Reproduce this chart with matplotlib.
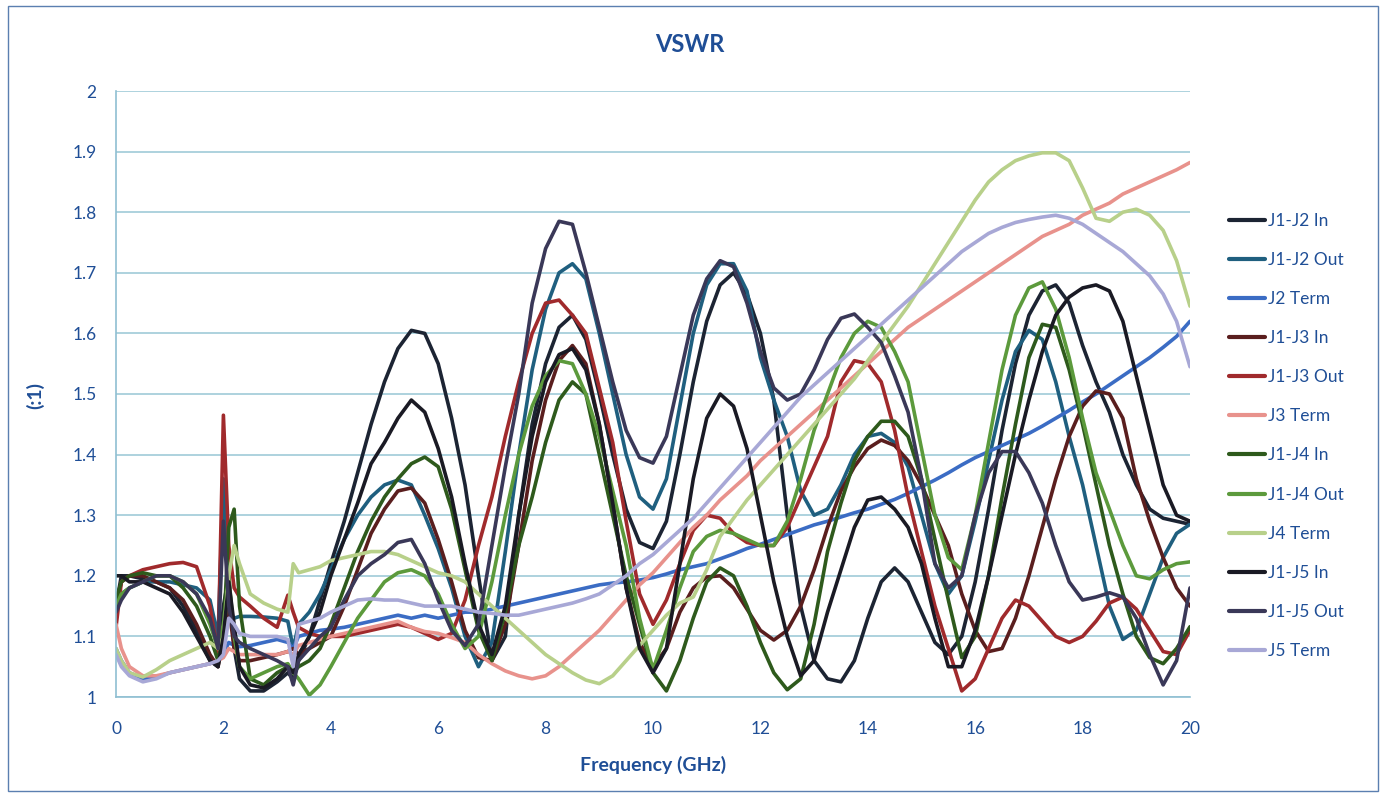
import matplotlib
matplotlib.use("Agg")
import matplotlib.pyplot as plt
from matplotlib.patches import Rectangle

plt.rcParams['font.family'] = ['Lato', 'DejaVu Sans']

freq = [0.0, 0.1, 0.25, 0.5, 0.75, 1.0, 1.25, 1.5, 1.75, 1.9, 2.0, 2.1, 2.2, 2.3, 2.5, 2.75, 3.0, 3.2, 3.3, 3.4, 3.6, 3.8,
        4.0, 4.25, 4.5, 4.75, 5.0, 5.25, 5.5, 5.75, 6.0, 6.25, 6.5, 6.75, 7.0, 7.25, 7.5, 7.75,
        8.0, 8.25, 8.5, 8.75, 9.0, 9.25, 9.5, 9.75, 10.0, 10.25, 10.5, 10.75, 11.0, 11.25, 11.5, 11.75,
        12.0, 12.25, 12.5, 12.75, 13.0, 13.25, 13.5, 13.75, 14.0, 14.25, 14.5, 14.75, 15.0, 15.25, 15.5, 15.75,
        16.0, 16.25, 16.5, 16.75, 17.0, 17.25, 17.5, 17.75, 18.0, 18.25, 18.5, 18.75, 19.0, 19.25, 19.5, 19.75,
        20.0]

j1j2_in = [1.15, 1.20, 1.20, 1.195, 1.19, 1.18, 1.15, 1.11, 1.06, 1.05, 1.15, 1.20, 1.08, 1.03, 1.01, 1.01, 1.025, 1.04, 1.03, 1.06, 1.10, 1.16,
           1.22, 1.29, 1.37, 1.45, 1.52, 1.575, 1.605, 1.60, 1.55, 1.46, 1.35, 1.20, 1.06, 1.10, 1.30, 1.45,
           1.55, 1.61, 1.63, 1.59, 1.50, 1.40, 1.31, 1.255, 1.245, 1.29, 1.40, 1.52, 1.62, 1.68, 1.70, 1.665,
           1.60, 1.49, 1.30, 1.15, 1.06, 1.03, 1.025, 1.06, 1.13, 1.19, 1.213, 1.19, 1.14, 1.09, 1.07, 1.10,
           1.19, 1.31, 1.44, 1.55, 1.63, 1.67, 1.68, 1.65, 1.58, 1.52, 1.47, 1.40, 1.35, 1.31, 1.295, 1.29,
           1.285]
j1j2_out = [1.15, 1.17, 1.18, 1.19, 1.19, 1.19, 1.185, 1.18, 1.16, 1.10, 1.36, 1.14, 1.13, 1.133, 1.133, 1.132, 1.13, 1.125, 1.08, 1.12, 1.14, 1.17,
            1.21, 1.26, 1.30, 1.33, 1.35, 1.358, 1.35, 1.30, 1.245, 1.18, 1.10, 1.05, 1.09, 1.24, 1.40, 1.54,
            1.64, 1.70, 1.715, 1.69, 1.60, 1.50, 1.40, 1.33, 1.31, 1.36, 1.48, 1.60, 1.68, 1.715, 1.715, 1.67,
            1.56, 1.49, 1.43, 1.34, 1.30, 1.31, 1.35, 1.40, 1.43, 1.435, 1.42, 1.38, 1.30, 1.22, 1.17, 1.20,
            1.29, 1.39, 1.49, 1.57, 1.605, 1.59, 1.52, 1.43, 1.35, 1.25, 1.15, 1.095, 1.11, 1.17, 1.23, 1.27,
            1.285]
j2_term = [1.08, 1.06, 1.04, 1.03, 1.033, 1.04, 1.045, 1.05, 1.055, 1.06, 1.07, 1.09, 1.085, 1.083, 1.085, 1.09, 1.095, 1.09, 1.08, 1.10, 1.105, 1.11,
           1.112, 1.115, 1.12, 1.125, 1.13, 1.135, 1.13, 1.135, 1.13, 1.135, 1.14, 1.14, 1.145, 1.15, 1.155, 1.16,
           1.165, 1.17, 1.175, 1.18, 1.185, 1.188, 1.19, 1.193, 1.197, 1.203, 1.21, 1.215, 1.22, 1.228, 1.236, 1.245,
           1.252, 1.26, 1.268, 1.276, 1.284, 1.29, 1.297, 1.304, 1.31, 1.318, 1.326, 1.336, 1.347, 1.358, 1.37, 1.383,
           1.395, 1.405, 1.415, 1.425, 1.435, 1.447, 1.46, 1.473, 1.487, 1.50, 1.515, 1.53, 1.545, 1.56, 1.577, 1.595,
           1.62]
j1j3_in = [1.15, 1.19, 1.20, 1.20, 1.19, 1.18, 1.16, 1.12, 1.07, 1.05, 1.10, 1.15, 1.08, 1.06, 1.06, 1.065, 1.07, 1.075, 1.08, 1.07, 1.08, 1.09,
           1.10, 1.15, 1.21, 1.27, 1.31, 1.34, 1.345, 1.32, 1.26, 1.19, 1.11, 1.065, 1.06, 1.12, 1.25, 1.39,
           1.49, 1.555, 1.58, 1.55, 1.45, 1.32, 1.18, 1.09, 1.05, 1.08, 1.14, 1.18, 1.198, 1.20, 1.18, 1.145,
           1.11, 1.094, 1.11, 1.15, 1.21, 1.28, 1.34, 1.38, 1.41, 1.424, 1.415, 1.39, 1.35, 1.30, 1.25, 1.17,
           1.11, 1.075, 1.08, 1.13, 1.20, 1.28, 1.36, 1.43, 1.48, 1.505, 1.50, 1.46, 1.36, 1.29, 1.23, 1.18,
           1.15]
j1j3_out = [1.115, 1.19, 1.20, 1.21, 1.215, 1.22, 1.222, 1.215, 1.15, 1.07, 1.465, 1.25, 1.18, 1.165, 1.15, 1.13, 1.115, 1.168, 1.14, 1.115, 1.105, 1.10,
            1.10, 1.10, 1.105, 1.11, 1.115, 1.12, 1.115, 1.105, 1.095, 1.105, 1.16, 1.25, 1.33, 1.43, 1.52, 1.60,
            1.65, 1.655, 1.63, 1.60, 1.51, 1.42, 1.29, 1.17, 1.12, 1.16, 1.22, 1.275, 1.30, 1.295, 1.27, 1.255,
            1.25, 1.25, 1.28, 1.33, 1.38, 1.43, 1.52, 1.555, 1.55, 1.52, 1.44, 1.33, 1.24, 1.15, 1.08, 1.01,
            1.03, 1.08, 1.13, 1.16, 1.15, 1.125, 1.10, 1.09, 1.10, 1.125, 1.155, 1.165, 1.145, 1.11, 1.075, 1.07,
            1.11]
j3_term = [1.12, 1.08, 1.05, 1.035, 1.035, 1.04, 1.045, 1.05, 1.055, 1.06, 1.065, 1.08, 1.075, 1.07, 1.07, 1.07, 1.07, 1.075, 1.07, 1.085, 1.09, 1.095,
           1.10, 1.105, 1.11, 1.115, 1.12, 1.125, 1.115, 1.108, 1.105, 1.098, 1.09, 1.07, 1.055, 1.043, 1.035, 1.03,
           1.035, 1.05, 1.07, 1.09, 1.11, 1.135, 1.16, 1.185, 1.205, 1.23, 1.255, 1.28, 1.30, 1.325, 1.345, 1.365,
           1.39, 1.41, 1.43, 1.45, 1.47, 1.49, 1.51, 1.53, 1.55, 1.57, 1.59, 1.61, 1.625, 1.64, 1.655, 1.67,
           1.685, 1.70, 1.715, 1.73, 1.745, 1.76, 1.77, 1.78, 1.795, 1.805, 1.815, 1.83, 1.84, 1.85, 1.86, 1.87,
           1.882]
j1j4_in = [1.16, 1.19, 1.20, 1.205, 1.20, 1.20, 1.18, 1.15, 1.10, 1.06, 1.10, 1.28, 1.31, 1.15, 1.03, 1.02, 1.04, 1.05, 1.04, 1.05, 1.06, 1.08,
           1.12, 1.18, 1.24, 1.29, 1.33, 1.36, 1.385, 1.396, 1.38, 1.31, 1.21, 1.11, 1.06, 1.14, 1.25, 1.33,
           1.42, 1.49, 1.52, 1.50, 1.40, 1.30, 1.20, 1.12, 1.04, 1.01, 1.06, 1.13, 1.19, 1.213, 1.20, 1.15,
           1.09, 1.04, 1.012, 1.03, 1.12, 1.24, 1.32, 1.39, 1.43, 1.455, 1.455, 1.43, 1.36, 1.26, 1.16, 1.065,
           1.10, 1.20, 1.33, 1.45, 1.56, 1.615, 1.61, 1.54, 1.45, 1.35, 1.25, 1.17, 1.10, 1.065, 1.055, 1.08,
           1.116]
j1j4_out = [1.15, 1.17, 1.18, 1.19, 1.20, 1.20, 1.19, 1.17, 1.12, 1.08, 1.12, 1.20, 1.10, 1.05, 1.03, 1.04, 1.05, 1.055, 1.04, 1.03, 1.003, 1.02,
            1.05, 1.09, 1.13, 1.16, 1.19, 1.205, 1.21, 1.20, 1.17, 1.12, 1.08, 1.10, 1.19, 1.30, 1.40, 1.48,
            1.53, 1.555, 1.55, 1.50, 1.43, 1.34, 1.25, 1.13, 1.045, 1.11, 1.18, 1.24, 1.265, 1.275, 1.27, 1.26,
            1.25, 1.25, 1.29, 1.36, 1.44, 1.50, 1.56, 1.60, 1.62, 1.61, 1.57, 1.52, 1.41, 1.30, 1.23, 1.21,
            1.30, 1.42, 1.54, 1.63, 1.675, 1.685, 1.64, 1.56, 1.46, 1.37, 1.31, 1.25, 1.20, 1.195, 1.21, 1.22,
            1.223]
j4_term = [1.08, 1.06, 1.04, 1.033, 1.045, 1.06, 1.07, 1.08, 1.09, 1.08, 1.10, 1.20, 1.25, 1.22, 1.17, 1.155, 1.145, 1.14, 1.22, 1.205, 1.21, 1.215,
           1.225, 1.23, 1.235, 1.24, 1.24, 1.235, 1.225, 1.215, 1.205, 1.20, 1.19, 1.17, 1.15, 1.13, 1.11, 1.09,
           1.07, 1.055, 1.04, 1.028, 1.022, 1.035, 1.06, 1.085, 1.11, 1.135, 1.155, 1.165, 1.21, 1.265, 1.295, 1.325,
           1.35, 1.375, 1.40, 1.425, 1.45, 1.475, 1.50, 1.525, 1.555, 1.585, 1.615, 1.645, 1.68, 1.715, 1.75, 1.785,
           1.82, 1.85, 1.87, 1.885, 1.893, 1.898, 1.898, 1.885, 1.84, 1.79, 1.785, 1.80, 1.805, 1.795, 1.77, 1.72,
           1.645]
j1j5_in = [1.20, 1.20, 1.19, 1.19, 1.18, 1.17, 1.14, 1.10, 1.06, 1.05, 1.10, 1.19, 1.12, 1.05, 1.02, 1.015, 1.03, 1.05, 1.04, 1.07, 1.10, 1.14,
           1.20, 1.26, 1.32, 1.385, 1.42, 1.46, 1.49, 1.47, 1.41, 1.33, 1.22, 1.12, 1.07, 1.15, 1.30, 1.43,
           1.52, 1.565, 1.575, 1.54, 1.45, 1.32, 1.18, 1.08, 1.04, 1.08, 1.22, 1.36, 1.46, 1.50, 1.48, 1.41,
           1.30, 1.19, 1.10, 1.035, 1.06, 1.14, 1.21, 1.28, 1.325, 1.33, 1.31, 1.28, 1.22, 1.13, 1.05, 1.05,
           1.11, 1.20, 1.30, 1.40, 1.49, 1.57, 1.63, 1.66, 1.675, 1.68, 1.67, 1.62, 1.53, 1.44, 1.35, 1.30,
           1.29]
j1j5_out = [1.14, 1.16, 1.18, 1.19, 1.20, 1.20, 1.19, 1.17, 1.13, 1.08, 1.29, 1.15, 1.10, 1.09, 1.08, 1.07, 1.06, 1.05, 1.02, 1.06, 1.08, 1.10,
            1.115, 1.16, 1.20, 1.22, 1.235, 1.255, 1.26, 1.22, 1.16, 1.11, 1.085, 1.12, 1.25, 1.38, 1.50, 1.65,
            1.74, 1.785, 1.78, 1.70, 1.61, 1.52, 1.44, 1.395, 1.386, 1.43, 1.53, 1.63, 1.69, 1.72, 1.71, 1.65,
            1.57, 1.51, 1.49, 1.50, 1.54, 1.59, 1.625, 1.632, 1.61, 1.585, 1.53, 1.47, 1.36, 1.22, 1.18, 1.20,
            1.30, 1.37, 1.405, 1.405, 1.37, 1.32, 1.25, 1.19, 1.16, 1.165, 1.172, 1.165, 1.13, 1.07, 1.02, 1.06,
            1.18]
j5_term = [1.07, 1.05, 1.035, 1.025, 1.03, 1.04, 1.045, 1.05, 1.055, 1.06, 1.07, 1.13, 1.12, 1.105, 1.10, 1.10, 1.10, 1.095, 1.05, 1.12, 1.125, 1.13,
           1.14, 1.15, 1.16, 1.162, 1.16, 1.16, 1.155, 1.15, 1.15, 1.15, 1.145, 1.14, 1.138, 1.135, 1.135, 1.14,
           1.145, 1.15, 1.155, 1.162, 1.17, 1.185, 1.20, 1.22, 1.235, 1.255, 1.275, 1.295, 1.32, 1.345, 1.37, 1.395,
           1.42, 1.445, 1.47, 1.495, 1.515, 1.535, 1.555, 1.575, 1.595, 1.615, 1.635, 1.655, 1.675, 1.695, 1.715, 1.735,
           1.75, 1.765, 1.775, 1.783, 1.788, 1.792, 1.795, 1.79, 1.78, 1.765, 1.75, 1.735, 1.715, 1.695, 1.665, 1.62,
           1.545]

series_names = ['J1-J2 In', 'J1-J2 Out', 'J2 Term', 'J1-J3 In', 'J1-J3 Out', 'J3 Term',
                'J1-J4 In', 'J1-J4 Out', 'J4 Term', 'J1-J5 In', 'J1-J5 Out', 'J5 Term']
series_values = [j1j2_in, j1j2_out, j2_term, j1j3_in, j1j3_out, j3_term,
                 j1j4_in, j1j4_out, j4_term, j1j5_in, j1j5_out, j5_term]
series_colors = ['#1c2433', '#1f5f7f', '#3b6cc4', '#5a1e1e', '#a02a2c', '#e8928c',
                 '#2e5a1c', '#5c9a3c', '#b8d08a', '#1a1a24', '#3a3858', '#a8a8d6']

x_ticks = [0, 2, 4, 6, 8, 10, 12, 14, 16, 18, 20]
y_ticks = [1.0, 1.1, 1.2, 1.3, 1.4, 1.5, 1.6, 1.7, 1.8, 1.9, 2.0]
y_tick_labels = ['1', '1.1', '1.2', '1.3', '1.4', '1.5', '1.6', '1.7', '1.8', '1.9', '2']

text_color = '#1f4e96'
grid_color = '#9fcbd8'

fig = plt.figure(figsize=(13.85, 7.97), dpi=100)
fig.patch.set_facecolor('white')
ax = fig.add_axes([116/1385, 100/797, 1074/1385, 606/797])

for name, vals, col in zip(series_names, series_values, series_colors):
    assert len(vals) == len(freq), name
    ax.plot(freq, vals, color=col, lw=2.6, label=name, solid_joinstyle='round', solid_capstyle='round')

ax.set_xlim(0, 20)
ax.set_ylim(1.0, 2.0)
ax.set_xticks(x_ticks)
ax.set_yticks(y_ticks)
ax.set_yticklabels(y_tick_labels)
ax.tick_params(axis='both', length=0, labelsize=12.5, colors=text_color)
ax.tick_params(axis='x', pad=17)
ax.tick_params(axis='y', pad=14)
ax.yaxis.grid(True, color=grid_color, lw=1.2)
ax.xaxis.grid(False)
ax.set_axisbelow(True)
for s in ['top', 'right']:
    ax.spines[s].set_visible(False)
for s in ['left', 'bottom']:
    ax.spines[s].set_color('#8fbfd2')
    ax.spines[s].set_linewidth(1.2)

fig.text(0.498, 1 - 45/797, 'VSWR', ha='center', va='center', fontsize=17,
         fontweight='bold', color=text_color)
fig.text(653/1385, 1 - 765/797, 'Frequency (GHz)', ha='center', va='center', fontsize=14,
         fontweight='bold', color=text_color)
fig.text(35/1385, 1 - 395/797, '(:1)', ha='center', va='center', fontsize=14,
         fontweight='bold', color=text_color, rotation=90)

leg = fig.legend(loc='upper left', bbox_to_anchor=(1222/1385, 1 - 206/797), frameon=False,
                 fontsize=12.5, handlelength=2.1, handletextpad=0.15, labelspacing=1.33,
                 borderaxespad=0)
for t in leg.get_texts():
    t.set_color(text_color)
for h in leg.get_lines():
    h.set_linewidth(3)

fig.add_artist(Rectangle((8/1385, 6/797), 1370/1385, 785/797, transform=fig.transFigure,
                         fill=False, edgecolor='#5b7fb0', lw=1.0))

fig.savefig('out.png', dpi=100, facecolor='white')
